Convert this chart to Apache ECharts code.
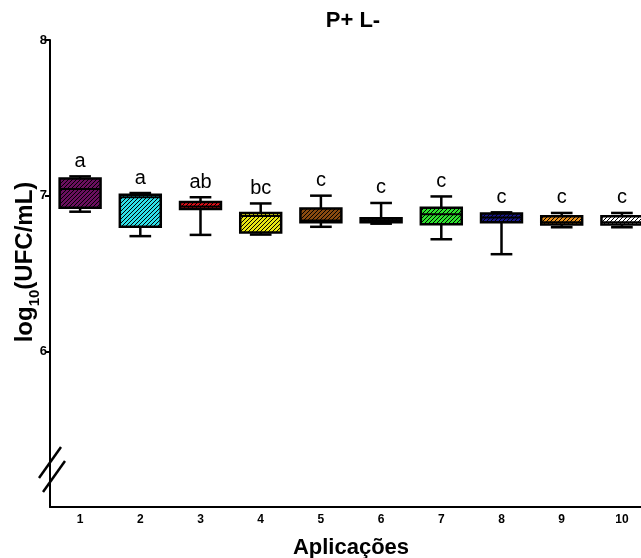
<!DOCTYPE html>
<html>
<head>
<meta charset="utf-8">
<script src="https://cdn.jsdelivr.net/npm/echarts@6/dist/echarts.min.js"></script>
<style>
  html, body { margin: 0; padding: 0; background: #fff; }
  #chart { width: 641px; height: 558px; }
</style>
</head>
<body>
<div id="chart"></div>
<script>
// aplicações 1..10
var categories = ['1', '2', '3', '4', '5', '6', '7', '8', '9', '10']
var whiskerLow = [6.897, 6.74, 6.748, 6.75, 6.80, 6.82, 6.72, 6.624, 6.797, 6.797]
var q1 = [6.923, 6.80, 6.915, 6.763, 6.83, 6.83, 6.816, 6.83, 6.814, 6.814]
var median = [7.043, 6.99, 6.93, 6.87, 6.84, 6.84, 6.88, 6.86, 6.83, 6.83]
var q3 = [7.11, 7.006, 6.96, 6.889, 6.917, 6.855, 6.923, 6.885, 6.868, 6.868]
var whiskerHigh = [7.124, 7.017, 6.99, 6.95, 7.0, 6.953, 6.995, 6.893, 6.889, 6.889]
var letters = ['a', 'a', 'ab', 'bc', 'c', 'c', 'c', 'c', 'c', 'c']
var yTicks = [6, 7, 8]

var boxColors = ['#6b0f5f', '#2ee0e8', '#e8101a', '#e8e612', '#8a4a10',
  '#222222', '#2ee02e', '#1a1a8c', '#e8901e', '#ffffff']

var FONT = '"Liberation Sans", Arial, sans-serif'

// diagonal hatch tile over a solid colour
function hatch(color) {
  var s = 4
  var c = document.createElement('canvas')
  c.width = s
  c.height = s
  var ctx = c.getContext('2d')
  ctx.fillStyle = color
  ctx.fillRect(0, 0, s, s)
  ctx.strokeStyle = '#000'
  ctx.lineWidth = 1
  ctx.beginPath()
  ctx.moveTo(0, s); ctx.lineTo(s, 0)
  ctx.moveTo(-1, 1); ctx.lineTo(1, -1)
  ctx.moveTo(s - 1, s + 1); ctx.lineTo(s + 1, s - 1)
  ctx.stroke()
  return { image: c, repeat: 'repeat' }
}

var boxData = categories.map(function (c, i) {
  return [i, whiskerLow[i], q1[i], median[i], q3[i], whiskerHigh[i]]
})

function renderBox(params, api) {
  var i = api.value(0)
  var band = api.size([1, 0])[0]
  var hw = band * 0.34
  var cw = band * 0.18
  var low = api.coord([i, api.value(1)])
  var b1 = api.coord([i, api.value(2)])
  var med = api.coord([i, api.value(3)])
  var b3 = api.coord([i, api.value(4)])
  var high = api.coord([i, api.value(5)])
  var x = low[0]
  var line = { stroke: '#000', lineWidth: 2.5 }
  return {
    type: 'group',
    children: [
      { type: 'line', shape: { x1: x, y1: high[1], x2: x, y2: b3[1] }, style: line },
      { type: 'line', shape: { x1: x, y1: b1[1], x2: x, y2: low[1] }, style: line },
      { type: 'line', shape: { x1: x - cw, y1: high[1], x2: x + cw, y2: high[1] }, style: line },
      { type: 'line', shape: { x1: x - cw, y1: low[1], x2: x + cw, y2: low[1] }, style: line },
      {
        type: 'rect',
        shape: { x: x - hw, y: b3[1], width: hw * 2, height: b1[1] - b3[1] },
        style: { fill: hatch(boxColors[i]), stroke: '#000', lineWidth: 2.5 }
      },
      { type: 'line', shape: { x1: x - hw, y1: med[1], x2: x + hw, y2: med[1] }, style: { stroke: '#000', lineWidth: 2 } },
      {
        type: 'text',
        x: x,
        y: high[1] - 5,
        style: {
          text: letters[i],
          fill: '#000',
          font: '20px ' + FONT,
          align: 'center',
          verticalAlign: 'bottom'
        }
      }
    ]
  }
}

var chart = echarts.init(document.getElementById('chart'))
chart.setOption({
  animation: false,
  grid: { left: 50, right: -11, top: 40, bottom: 51, outerBoundsMode: 'none', containLabel: false },
  xAxis: {
    type: 'category',
    data: categories,
    axisLine: { lineStyle: { color: '#000', width: 2 } },
    axisTick: { alignWithLabel: true, length: 4, lineStyle: { color: '#000', width: 2 } },
    axisLabel: { color: '#000', fontWeight: 'bold', fontSize: 12, fontFamily: FONT, margin: 7 },
    name: 'Aplicações',
    nameLocation: 'middle',
    nameGap: 30,
    nameTextStyle: { color: '#000', fontWeight: 'bold', fontSize: 22, fontFamily: FONT }
  },
  yAxis: {
    type: 'value',
    min: 5,
    max: 8,
    interval: 1,
    splitLine: { show: false },
    axisLine: { show: true, lineStyle: { color: '#000', width: 2 } },
    axisTick: { show: true, length: 5, customValues: yTicks, lineStyle: { color: '#000', width: 2 } },
    axisLabel: { color: '#000', fontWeight: 'bold', fontSize: 13, fontFamily: FONT, margin: 3, customValues: yTicks }
  },
  graphic: [
    {
      type: 'text',
      x: 353,
      y: 21,
      style: { text: 'P+ L-', font: 'bold 22px ' + FONT, fill: '#000', align: 'center', verticalAlign: 'middle' }
    },
    {
      type: 'text',
      x: 25,
      y: 262,
      rotation: Math.PI / 2,
      style: {
        text: '{a|log}{b|10}{a|(UFC/mL)}',
        align: 'center',
        verticalAlign: 'middle',
        rich: {
          a: { font: 'bold 24px ' + FONT, fill: '#000', verticalAlign: 'bottom' },
          b: { font: 'bold 15px ' + FONT, fill: '#000', verticalAlign: 'bottom', padding: [0, 0, -5, 0] }
        }
      }
    },
    { type: 'line', shape: { x1: 39, y1: 478, x2: 61, y2: 447 }, style: { stroke: '#000', lineWidth: 2.5 } },
    { type: 'line', shape: { x1: 43, y1: 492, x2: 65, y2: 461 }, style: { stroke: '#000', lineWidth: 2.5 } }
  ],
  series: [{
    type: 'custom',
    renderItem: renderBox,
    encode: { x: 0, y: [1, 2, 3, 4, 5] },
    data: boxData
  }]
})
</script>
</body>
</html>
